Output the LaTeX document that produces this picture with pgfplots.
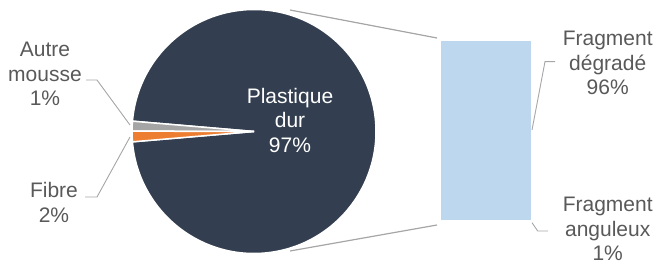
\documentclass[border=0pt]{standalone}
\usepackage{pgfplots}
\pgfplotsset{compat=1.18}
\usepackage{fontspec}
\setmainfont{Liberation Sans}
\definecolor{navy}{HTML}{333F50}
\definecolor{slicegray}{HTML}{A5A5A5}
\definecolor{sliceorange}{HTML}{ED7D31}
\definecolor{barblue}{HTML}{BDD7EE}
\definecolor{txt}{HTML}{595959}
\definecolor{lead}{HTML}{A6A6A6}
% pie values (percent)
\def\pPlast{97.3}
\def\pAutre{1.3}
\def\pFibre{1.4}
\begin{document}
\begin{tikzpicture}[font=\fontsize{21bp}{24.5bp}\selectfont, every node/.style={inner sep=1bp}]
\begin{axis}[hide axis, x=1bp, y=1bp, xmin=0, xmax=656, ymin=0, ymax=266, clip=false]
  % pie slices, centred at (254,134.5), radius 122
  \pgfmathsetmacro{\aH}{\pPlast*3.6/2}
  \pgfmathsetmacro{\aA}{\aH+\pAutre*3.6}
  \pgfmathsetmacro{\aF}{\aA+\pFibre*3.6}
  \fill[navy, draw=white, line width=1.5bp] (axis cs:254,134.5) -- ++(-\aH:122bp) arc[start angle=-\aH, end angle=\aH, radius=122bp] -- cycle;
  \fill[slicegray, draw=white, line width=1.5bp] (axis cs:254,134.5) -- ++(\aH:122bp) arc[start angle=\aH, end angle=\aA, radius=122bp] -- cycle;
  \fill[sliceorange, draw=white, line width=1.5bp] (axis cs:254,134.5) -- ++(\aA:122bp) arc[start angle=\aA, end angle=\aF, radius=122bp] -- cycle;
  % connector lines pie -> bar
  \addplot[lead, line width=1.2bp, no marks] coordinates {(290,256) (437,228)};
  \addplot[lead, line width=1.2bp, no marks] coordinates {(290,15) (437,41)};
  % leader lines
  \addplot[lead, line width=0.9bp, no marks] coordinates {(86,186) (97,186) (130,141)};
  \addplot[lead, line width=0.9bp, no marks] coordinates {(130,129) (97,69) (85,69)};
  \addplot[lead, line width=0.9bp, no marks] coordinates {(532,136) (545,204.3) (555,204.3)};
  \addplot[lead, line width=0.9bp, no marks] coordinates {(532,43.3) (537.7,35) (548,35)};
  % labels
  \node[txt, align=center] at (axis cs:45,192) {Autre\\mousse\\1\%};
  \node[txt, align=center] at (axis cs:54,63.5) {Fibre\\2\%};
  \node[white, align=center] at (axis cs:290,146) {Plastique\\dur\\97\%};
  \node[txt, align=center] at (axis cs:607.7,203) {Fragment\\dégradé\\96\%};
  \node[txt, align=center] at (axis cs:607.7,37) {Fragment\\anguleux\\1\%};
\end{axis}
\begin{axis}[hide axis, x=1bp, y=1.8485bp, xmin=0, xmax=656, ymin=-24.885, ymax=119.02,
  ybar stacked, bar width=90bp, clip=false]
  \addplot[fill=barblue, draw=none] coordinates {(486,1)};   % Fragment anguleux
  \addplot[fill=barblue, draw=none] coordinates {(486,96)};  % Fragment dégradé
\end{axis}
\pgfresetboundingbox
\useasboundingbox (0,0) rectangle (656bp,266bp);
\end{tikzpicture}
\end{document}
